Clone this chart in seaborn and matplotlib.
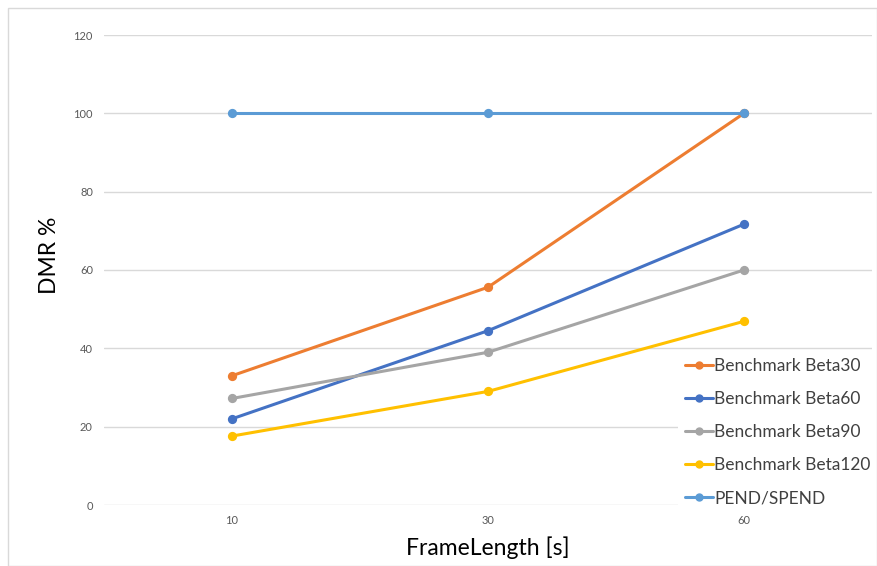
import matplotlib
matplotlib.use("Agg")
import matplotlib.pyplot as plt
import seaborn as sns
import pandas as pd
from matplotlib.lines import Line2D
from matplotlib.patches import Rectangle

frame_lengths = ["10", "30", "60"]
beta30 = [33.0, 55.6, 100.0]
beta60 = [22.0, 44.5, 71.7]
beta90 = [27.2, 39.0, 60.0]
beta120 = [17.6, 29.0, 46.9]
pend_spend = [100.0, 100.0, 100.0]
series_names = ["Benchmark Beta30", "Benchmark Beta60", "Benchmark Beta90",
                "Benchmark Beta120", "PEND/SPEND"]
colors = ["#ED7D31", "#4472C4", "#A5A5A5", "#FFC000", "#5B9BD5"]
y_ticks = [0, 20, 40, 60, 80, 100, 120]

rows = []
for name, vals in zip(series_names, [beta30, beta60, beta90, beta120, pend_spend]):
    for f, v in zip(frame_lengths, vals):
        rows.append({"FrameLength": f, "DMR": v, "series": name})
df = pd.DataFrame(rows)

sns.set_theme(style="white")
plt.rcParams["font.family"] = ["Lato", "DejaVu Sans"]

fig = plt.figure(figsize=(8.77, 5.66), dpi=100)
ax = fig.add_axes([104/877, 1-505/566, 768/877, 470/566])

sns.pointplot(data=df, x="FrameLength", y="DMR", hue="series", order=frame_lengths,
              hue_order=series_names, palette=colors, markers="o", linestyles="-",
              markersize=5, linewidth=2.2, ax=ax, legend=False, errorbar=None)

ax.set_ylim(0, 120)
ax.set_xlim(-0.5, 2.5)
ax.set_yticks(y_ticks)
ax.set_yticklabels([str(t) for t in y_ticks], fontsize=8, color="#595959")
ax.tick_params(axis="x", labelsize=8, labelcolor="#595959", length=0, pad=7)
ax.tick_params(axis="y", length=0, pad=8)
ax.yaxis.grid(True, color="#D9D9D9", linewidth=1)
ax.set_axisbelow(True)
for s in ax.spines.values():
    s.set_visible(False)

ax.set_xlabel("FrameLength [s]", fontsize=16.5, color="black", va="center")
ax.xaxis.set_label_coords(0.5, (505-548)/470)
ax.set_ylabel("DMR %", fontsize=16.5, color="black", va="center")
ax.yaxis.set_label_coords((50-104)/768, (505-255)/470)

handles = [Line2D([0], [0], color=c, lw=2.2, marker="o", markersize=5) for c in colors]
leg = ax.legend(handles, series_names, loc="upper left",
                bbox_to_anchor=(678/877, 1-351/566), bbox_transform=fig.transFigure,
                frameon=True, fancybox=False, framealpha=1, edgecolor="white",
                fontsize=12.5, labelcolor="#404040", handlelength=1.6, handletextpad=0.08,
                labelspacing=0.98, borderaxespad=0, borderpad=0.4)
leg.get_frame().set_linewidth(0)

fig.patches.append(Rectangle((8/877, 0.0), 869/877, 1-8/566, transform=fig.transFigure,
                             fill=False, edgecolor="#D9D9D9", linewidth=1))

fig.savefig("out.png", dpi=100)
